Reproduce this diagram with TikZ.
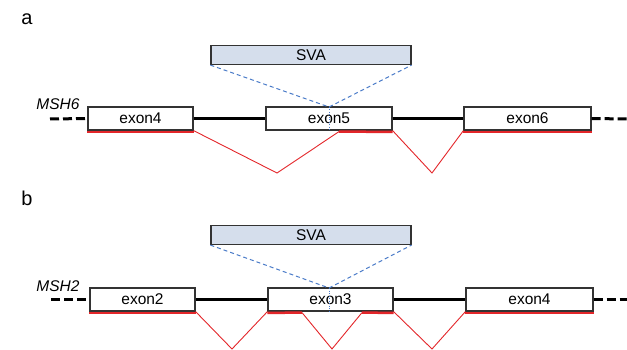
\documentclass[tikz,border=0pt]{standalone}
\usepackage{fontspec}
\setmainfont{Liberation Sans}
\definecolor{redc}{HTML}{E3262A}
\definecolor{bluec}{HTML}{4A7BC8}
\definecolor{svafill}{HTML}{D5DEEC}
\definecolor{boxgray}{HTML}{333333}
\begin{document}
\begin{tikzpicture}[x=1pt,y=-1pt,
  exon/.style={draw=boxgray, line width=1.2pt, fill=white, minimum height=23pt, inner sep=0pt, font=\fontsize{15.5}{18}\selectfont},
  sva/.style={draw=boxgray, line width=1.2pt, fill=svafill, minimum height=19pt, minimum width=200pt, inner sep=0pt, font=\fontsize{15.5}{18}\selectfont},
  intron/.style={line width=3pt, black},
  flank/.style={line width=3pt, black, dash pattern=on 9pt off 4pt},
  exonred/.style={line width=2.5pt, redc},
  splice/.style={line width=0.9pt, redc},
  insline/.style={line width=1pt, bluec, dash pattern=on 4pt off 3pt},
  insdot/.style={line width=0.9pt, bluec, dash pattern=on 1pt off 1.5pt},
  gene/.style={font=\fontsize{15.5}{18}\selectfont\itshape, inner sep=0pt},
  panel/.style={font=\fontsize{20}{24}\selectfont, inner sep=0pt}]
\useasboundingbox (0,0) rectangle (627,350);

% ---------- panel a ----------
\node[panel] (la) at (27,19) {a};
\node[sva] (svaA) at (311,55) {SVA};
\node[gene, anchor=base] (gA) at (58,110) {MSH6};
\coordinate (lA) at (50,119);
\coordinate (rA) at (627,119);
\node[exon, minimum width=105pt] (e4A) at (140.5,118.5) {exon4};
\node[exon, minimum width=126pt] (e5A) at (329,118.5) {exon5};
\node[exon, minimum width=127pt] (e6A) at (527.5,118.5) {exon6};
\draw[flank] (lA) -- (e4A.west);
\draw[flank] (e6A.east) -- (rA);
\draw[intron] (e4A.east) -- (e5A.west);
\draw[intron] (e5A.east) -- (e6A.west);
\coordinate (j5A) at (339,131.6);
\coordinate (vA1) at (277,173);
\coordinate (vA2) at (432,173);
\coordinate (insA) at (329,107);
\draw[exonred] ([yshift=-1.3pt]e4A.south west) -- ([yshift=-1.3pt]e4A.south east);
\draw[exonred] (j5A) -- ([yshift=-1.3pt]e5A.south east);
\draw[exonred] ([yshift=-1.3pt]e6A.south west) -- ([yshift=-1.3pt]e6A.south east);
\draw[splice] (e4A.south east) -- (vA1) -- (j5A);
\draw[splice] (e5A.south east) -- (vA2) -- (e6A.south west);
\draw[insline] (svaA.south west) -- (insA) -- (svaA.south east);
\draw[insdot] (insA) -- (insA |- e5A.south);

% ---------- panel b ----------
\node[panel] (lb) at (27,198) {b};
\node[sva] (svaB) at (311,235) {SVA};
\node[gene, anchor=base] (gB) at (58,291) {MSH2};
\coordinate (lB) at (51,299.5);
\coordinate (rB) at (627,299.5);
\node[exon, minimum width=105pt] (e2B) at (142.5,299.5) {exon2};
\node[exon, minimum width=125pt] (e3B) at (330.5,299.5) {exon3};
\node[exon, minimum width=127pt] (e4B) at (529.5,299.5) {exon4};
\draw[flank] (lB) -- (e2B.west);
\draw[flank] (e4B.east) -- (rB);
\draw[intron] (e2B.east) -- (e3B.west);
\draw[intron] (e3B.east) -- (e4B.west);
\coordinate (k3B) at (302,312.6);
\coordinate (j3B) at (362,312.6);
\coordinate (vB1) at (232,349);
\coordinate (vB2) at (332,349);
\coordinate (vB3) at (432,349);
\coordinate (insB) at (329,288);
\draw[exonred] ([yshift=-1.3pt]e2B.south west) -- ([yshift=-1.3pt]e2B.south east);
\draw[exonred] ([yshift=-1.3pt]e3B.south west) -- (k3B);
\draw[exonred] (j3B) -- ([yshift=-1.3pt]e3B.south east);
\draw[exonred] ([yshift=-1.3pt]e4B.south west) -- ([yshift=-1.3pt]e4B.south east);
\draw[splice] (e2B.south east) -- (vB1) -- (e3B.south west);
\draw[splice] (k3B) -- (vB2) -- (j3B);
\draw[splice] (e3B.south east) -- (vB3) -- (e4B.south west);
\draw[insline] (svaB.south west) -- (insB) -- (svaB.south east);
\draw[insdot] (insB) -- (insB |- e3B.south);
\end{tikzpicture}
\end{document}
